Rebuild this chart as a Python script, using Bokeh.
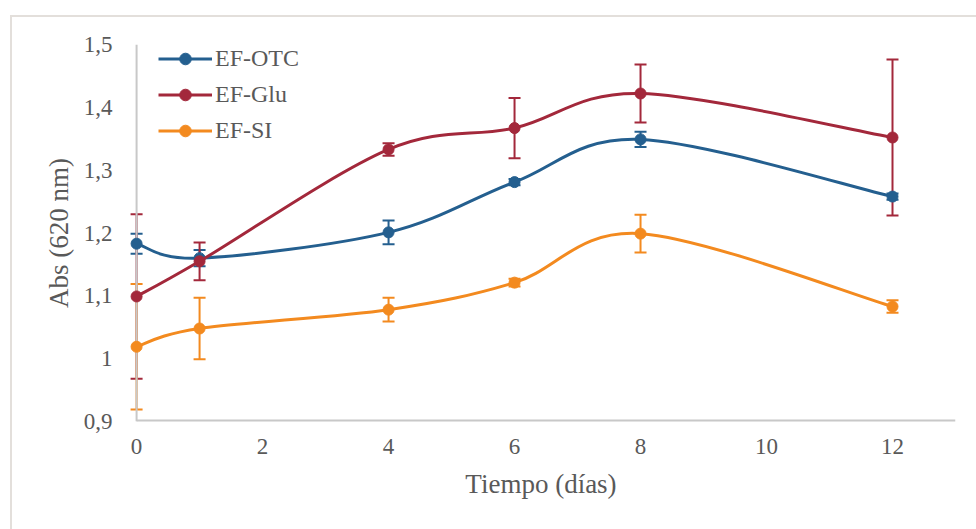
import numpy as np
from bokeh.plotting import figure
from bokeh.models import (ColumnDataSource, Whisker, TeeHead, Legend, LegendItem,
                          FixedTicker, CustomJSTickFormatter, Range1d)
from bokeh.layouts import column
from bokeh.embed import file_html
from bokeh.resources import INLINE

# ---------------- data ----------------
days = [0, 1, 4, 6, 8, 12]

otc = [1.183, 1.160, 1.201, 1.281, 1.349, 1.258]
otc_err = [0.016, 0.013, 0.019, 0.005, 0.012, 0.005]

glu = [1.099, 1.155, 1.333, 1.367, 1.422, 1.352]
glu_err = [0.131, 0.030, 0.010, 0.048, 0.046, 0.124]

si = [1.019, 1.048, 1.078, 1.121, 1.199, 1.083]
si_err = [0.100, 0.049, 0.019, 0.006, 0.030, 0.010]

series_names = ["EF-OTC", "EF-Glu", "EF-SI"]
series_colors = ["#245f8f", "#a3283b", "#f38a1f"]

x_ticks = [0, 2, 4, 6, 8, 10, 12]
y_ticks = [0.9, 1.0, 1.1, 1.2, 1.3, 1.4, 1.5]
X_MIN, X_MAX = 0, 13
Y_MIN, Y_MAX = 0.9, 1.5

x_title = "Tiempo (días)"
y_title = "Abs (620 nm)"

FONT = "Liberation Serif"
TXT = "#595959"
AXIS_COLOR = "#c8c8c8"


def smooth_segments(xs, ys):
    """Bezier control points (Catmull-Rom style) for a smoothed line through the points."""
    xs = np.asarray(xs, float)
    ys = np.asarray(ys, float)
    n = len(xs)
    tx = np.zeros(n)
    ty = np.zeros(n)
    for i in range(n):
        a = max(i - 1, 0)
        b = min(i + 1, n - 1)
        tx[i] = (xs[b] - xs[a]) / 2.0
        ty[i] = (ys[b] - ys[a]) / 2.0
    return dict(
        x0=xs[:-1], y0=ys[:-1], x1=xs[1:], y1=ys[1:],
        cx0=xs[:-1] + tx[:-1] / 3.0, cy0=ys[:-1] + ty[:-1] / 3.0,
        cx1=xs[1:] - tx[1:] / 3.0, cy1=ys[1:] - ty[1:] / 3.0,
    )


p = figure(frame_width=829, frame_height=377,
           x_range=Range1d(X_MIN - 0.16, X_MAX), y_range=Range1d(Y_MIN, Y_MAX),
           output_backend="svg", toolbar_location=None,
           min_border_left=114, min_border_right=21,
           min_border_top=27, min_border_bottom=108)
p.outline_line_color = None
p.xgrid.visible = False
p.ygrid.visible = False
p.background_fill_color = "white"
p.border_fill_color = "white"

# axes (lines drawn manually at data origin)
for ax in (p.xaxis[0], p.yaxis[0]):
    ax.axis_line_color = None
    ax.major_tick_line_color = None
    ax.minor_tick_line_color = None
    ax.major_label_text_font = FONT
    ax.major_label_text_color = TXT
    ax.major_label_text_font_size = "23px"
    ax.axis_label_text_font = FONT
    ax.axis_label_text_color = TXT
    ax.axis_label_text_font_size = "27px"
    ax.axis_label_text_font_style = "normal"

p.xaxis.ticker = FixedTicker(ticks=x_ticks)
p.yaxis.ticker = FixedTicker(ticks=y_ticks)
p.yaxis.formatter = CustomJSTickFormatter(
    code="return tick.toFixed(1).replace('.0','').replace('.',',');")
p.xaxis.major_label_standoff = 11
p.yaxis.major_label_standoff = 8
p.xaxis.axis_label = x_title
p.yaxis.axis_label = y_title
p.xaxis.axis_label_standoff = 12
p.yaxis.axis_label_standoff = 7

p.segment(x0=[X_MIN], y0=[Y_MIN], x1=[X_MIN], y1=[Y_MAX], line_color=AXIS_COLOR, line_width=2)
p.segment(x0=[X_MIN], y0=[Y_MIN], x1=[X_MAX], y1=[Y_MIN], line_color=AXIS_COLOR, line_width=4)

items = []
for name, vals, errs, col in zip(series_names, [otc, glu, si], [otc_err, glu_err, si_err], series_colors):
    seg = ColumnDataSource(smooth_segments(days, vals))
    bz = p.bezier(x0="x0", y0="y0", x1="x1", y1="y1", cx0="cx0", cy0="cy0", cx1="cx1", cy1="cy1",
                  source=seg, line_color=col, line_width=3)
    esrc = ColumnDataSource(dict(base=days,
                                 upper=[v + e for v, e in zip(vals, errs)],
                                 lower=[v - e for v, e in zip(vals, errs)]))
    w = Whisker(base="base", upper="upper", lower="lower", source=esrc, dimension="height",
                line_color=col, line_width=2,
                upper_head=TeeHead(size=12, line_color=col, line_width=2),
                lower_head=TeeHead(size=12, line_color=col, line_width=2))
    p.add_layout(w)
    sc = p.scatter(days, vals, marker="circle", size=11, fill_color=col, line_color=col)
    items.append(LegendItem(label=name, renderers=[bz, sc]))

legend = Legend(items=items, location=(32, 276), orientation="vertical")
legend.label_text_font = FONT
legend.label_text_color = TXT
legend.label_text_font_size = "24px"
legend.glyph_width = 54
legend.glyph_height = 29
legend.label_height = 29
legend.label_standoff = 3
legend.spacing = 7
legend.padding = 0
legend.margin = 0
legend.border_line_color = None
legend.background_fill_alpha = 0
p.add_layout(legend)

layout = column(p, margin=(15, 0, 0, 10),
                styles={"border-top": "2px solid #e3dfdb", "border-left": "2px solid #e3dfdb"})

open("out.html", "w").write(file_html(layout, INLINE))
